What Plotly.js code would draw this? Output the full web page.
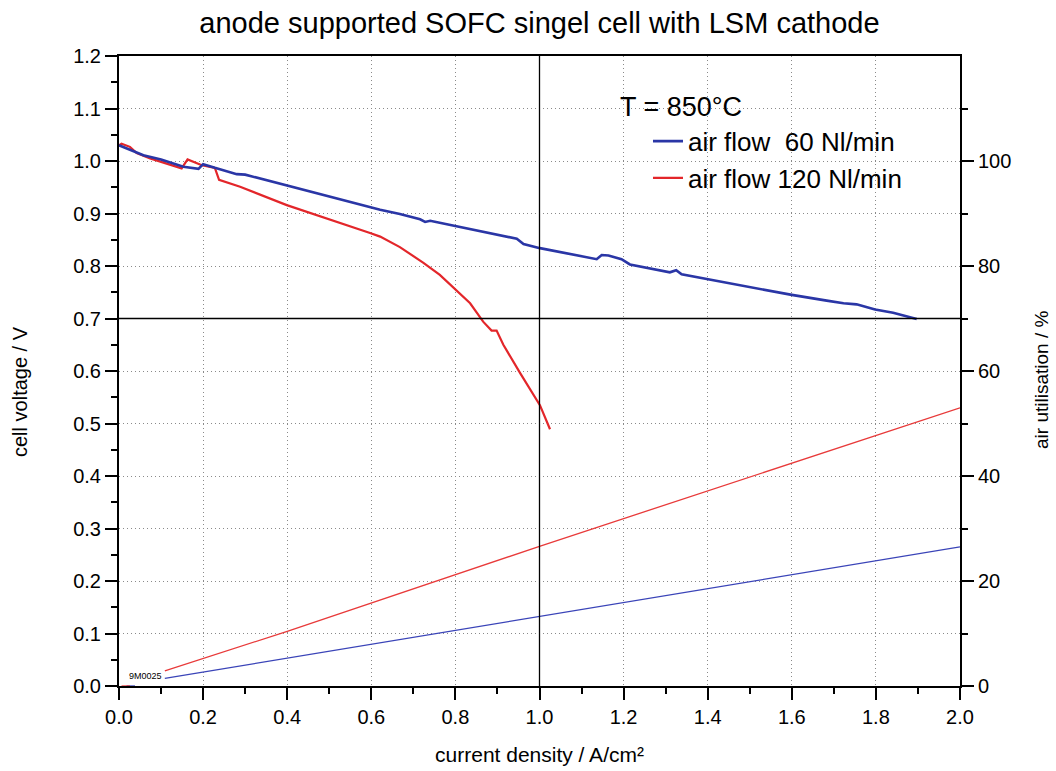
<!DOCTYPE html>
<html>
<head>
<meta charset="utf-8">
<script src="https://cdn.plot.ly/plotly-3.0.1.min.js"></script>
<style>html,body{margin:0;padding:0;background:#fff;}#chart{width:1056px;height:771px;}</style>
</head>
<body>
<div id="chart"></div>
<script>
// ---- data ----
const chartTitle = "anode supported SOFC singel cell with LSM cathode";
const xTitle = "current density / A/cm²";
const yTitle = "cell voltage / V";
const y2Title = "air utilisation / %";
const seriesNames = ["air flow  60 Nl/min", "air flow 120 Nl/min"];
const temperatureLabel = "T = 850°C";
const sampleId = "9M0025";

// cell voltage, air flow 60 Nl/min
const j60 = [0, 0.006, 0.058, 0.1, 0.153, 0.189, 0.2, 0.228, 0.28, 0.30, 0.399, 0.621, 0.668, 0.716, 0.728, 0.74, 0.946, 0.962, 1.001, 1.049, 1.096, 1.136, 1.148, 1.164, 1.195, 1.215, 1.31, 1.325, 1.338, 1.397, 1.477, 1.524, 1.556, 1.6, 1.683, 1.723, 1.754, 1.798, 1.841, 1.897];
const v60 = [1.03, 1.028, 1.011, 1.003, 0.989, 0.985, 0.994, 0.987, 0.975, 0.974, 0.953, 0.907, 0.899, 0.889, 0.884, 0.886, 0.852, 0.842, 0.834, 0.827, 0.819, 0.813, 0.821, 0.820, 0.813, 0.803, 0.788, 0.792, 0.784, 0.775, 0.764, 0.756, 0.751, 0.745, 0.734, 0.729, 0.727, 0.717, 0.711, 0.699];

// cell voltage, air flow 120 Nl/min
const j120 = [0, 0.006, 0.026, 0.042, 0.074, 0.149, 0.163, 0.197, 0.228, 0.238, 0.288, 0.399, 0.597, 0.621, 0.668, 0.724, 0.763, 0.811, 0.835, 0.866, 0.886, 0.898, 0.914, 0.954, 1.001, 1.025];
const v120 = [1.03, 1.033, 1.027, 1.015, 1.005, 0.986, 1.003, 0.992, 0.987, 0.964, 0.951, 0.916, 0.863, 0.856, 0.836, 0.806, 0.783, 0.748, 0.729, 0.694, 0.677, 0.677, 0.650, 0.596, 0.535, 0.489];

// air utilisation (%)
const ju60 = [0.018, 0.038, null, 0.109, 1.0, 2.0];
const u60 = [0, 0, null, 1.45, 13.3, 26.5];
const ju120 = [0.006, 0.026, null, 0.109, 0.4, 1.0, 2.0];
const u120 = [0, 0, null, 2.9, 10.4, 26.6, 53.0];

// reference lines
const refVoltage = 0.7;
const refCurrent = 1.0;

// axis ticks
const xTicks = [0, 0.2, 0.4, 0.6, 0.8, 1.0, 1.2, 1.4, 1.6, 1.8, 2.0];
const yTicks = [0, 0.1, 0.2, 0.3, 0.4, 0.5, 0.6, 0.7, 0.8, 0.9, 1.0, 1.1, 1.2];
const y2Ticks = [0, 20, 40, 60, 80, 100];
const y2Minor = [10, 30, 50, 70, 90, 110];

// ---- styling ----
const BLUE = "#2a36a6";
const RED = "#e3262a";
const FONT = "Liberation Sans, Arial, Helvetica, sans-serif";
const GRID = {showgrid: true, gridcolor: "#8a8a8a", griddash: "1px,3px", gridwidth: 1};
const TICKS = {ticks: "outside", ticklen: 12, tickwidth: 2, tickcolor: "#000"};
const MINOR = {ticks: "outside", ticklen: 6, tickwidth: 2, tickcolor: "#000", showgrid: false};

const traces = [
  {x: ju60, y: u60, yaxis: "y2", mode: "lines", line: {color: "#3a44b8", width: 1.3}, showlegend: false, legendgroup: "a", hoverinfo: "skip"},
  {x: ju120, y: u120, yaxis: "y2", mode: "lines", line: {color: "#e83a3a", width: 1.3}, showlegend: false, legendgroup: "b", hoverinfo: "skip"},
  {x: j120, y: v120, mode: "lines", name: seriesNames[1], line: {color: RED, width: 2.2}, legendgroup: "b", legendrank: 2},
  {x: j60, y: v60, mode: "lines", name: seriesNames[0], line: {color: BLUE, width: 2.6}, legendgroup: "a", legendrank: 1}
];

const layout = {
  width: 1056, height: 771,
  paper_bgcolor: "#fff", plot_bgcolor: "#fff",
  margin: {l: 119, r: 96, t: 56, b: 85},
  font: {family: FONT, color: "#000", size: 20},
  title: {text: chartTitle, font: {size: 29, family: FONT, color: "#000"}, x: 0.5, xref: "paper", y: 1 - 23 / 771, yref: "container", yanchor: "middle"},
  showlegend: true,
  legend: {x: 0.629, xanchor: "left", y: 0.902, yanchor: "top", bgcolor: "rgba(0,0,0,0)", borderwidth: 0,
           font: {size: 26, family: FONT, color: "#000"}, traceorder: "grouped", tracegroupgap: 0},
  xaxis: Object.assign({
    range: [0, 2], tickmode: "array", tickvals: xTicks, tickformat: ".1f",
    showline: true, linecolor: "#000", linewidth: 2, mirror: true,
    zeroline: false, tickfont: {size: 20},
    minor: Object.assign({tickmode: "linear", tick0: 0, dtick: 0.1}, MINOR),
    title: {text: xTitle, font: {size: 21}, standoff: 20},
    automargin: false
  }, TICKS, GRID),
  yaxis: Object.assign({
    range: [0, 1.2], tickmode: "array", tickvals: yTicks, tickformat: ".1f",
    showline: true, linecolor: "#000", linewidth: 2, mirror: false,
    zeroline: false, tickfont: {size: 20},
    minor: Object.assign({tickmode: "linear", tick0: 0, dtick: 0.05}, MINOR),
    automargin: false
  }, TICKS, GRID),
  yaxis2: Object.assign({
    overlaying: "y", side: "right", range: [0, 120],
    tickmode: "array", tickvals: y2Ticks,
    showline: true, linecolor: "#000", linewidth: 2,
    showgrid: false, zeroline: false, tickfont: {size: 20},
    minor: Object.assign({tickvals: y2Minor}, MINOR),
    automargin: false
  }, TICKS),
  shapes: [
    {type: "line", xref: "paper", x0: 0, x1: 1, yref: "y", y0: refVoltage, y1: refVoltage, line: {color: "#000", width: 1.3}, layer: "above"},
    {type: "line", yref: "paper", y0: 0, y1: 1, xref: "x", x0: refCurrent, x1: refCurrent, line: {color: "#000", width: 1.3}, layer: "above"}
  ],
  annotations: [
    {text: yTitle, xref: "paper", yref: "paper", x: -119 / 841 + 20 / 841, y: (686 - 392) / 630, xanchor: "center", yanchor: "middle", textangle: -90, showarrow: false, font: {size: 20, family: FONT, color: "#000"}},
    {text: y2Title, xref: "paper", yref: "paper", x: 1 + (1042 - 960) / 841, y: (686 - 380) / 630, xanchor: "center", yanchor: "middle", textangle: -90, showarrow: false, font: {size: 19, family: FONT, color: "#000"}},
    {text: temperatureLabel, xref: "paper", yref: "paper", x: 0.593, y: 0.919, xanchor: "left", yanchor: "middle", showarrow: false, font: {size: 27, family: FONT, color: "#000"}},
    {text: sampleId, xref: "paper", yref: "paper", x: 0.009, y: 0.016, xanchor: "left", yanchor: "middle", showarrow: false, font: {size: 9, family: FONT, color: "#000"}}
  ]
};

Plotly.newPlot("chart", traces, layout, {displayModeBar: false, staticPlot: true});
</script>
</body>
</html>
